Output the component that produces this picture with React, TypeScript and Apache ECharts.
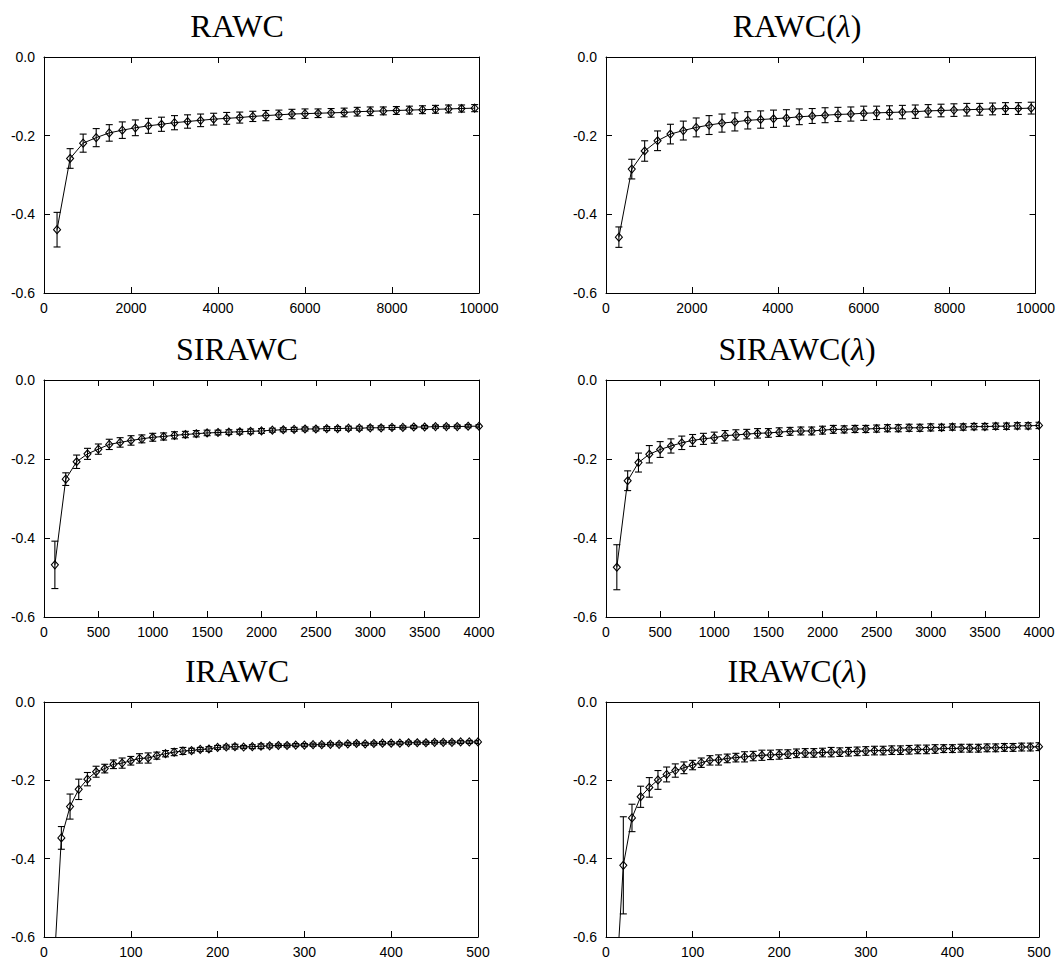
import React, { useEffect, useRef } from "react";
import * as echarts from "echarts";

// ---------- data ----------
const rawcX = [300, 600, 900, 1200, 1500, 1800, 2100, 2400, 2700, 3000, 3300, 3600, 3900, 4200, 4500, 4800, 5100, 5400, 5700, 6000, 6300, 6600, 6900, 7200, 7500, 7800, 8100, 8400, 8700, 9000, 9300, 9600, 9900];
const rawcY = [-0.439, -0.258, -0.219, -0.205, -0.193, -0.186, -0.18, -0.175, -0.171, -0.167, -0.164, -0.161, -0.158, -0.156, -0.154, -0.151, -0.149, -0.147, -0.145, -0.144, -0.143, -0.142, -0.141, -0.139, -0.138, -0.137, -0.136, -0.135, -0.134, -0.133, -0.132, -0.131, -0.13];
const rawcErr = [0.044, 0.025, 0.023, 0.023, 0.021, 0.021, 0.02, 0.019, 0.018, 0.018, 0.017, 0.016, 0.015, 0.015, 0.014, 0.013, 0.013, 0.012, 0.012, 0.012, 0.011, 0.011, 0.011, 0.011, 0.011, 0.01, 0.01, 0.01, 0.01, 0.01, 0.01, 0.009, 0.009];

const rawcLX = rawcX;
const rawcLY = [-0.458, -0.285, -0.239, -0.213, -0.196, -0.187, -0.179, -0.173, -0.168, -0.165, -0.161, -0.159, -0.157, -0.155, -0.152, -0.15, -0.148, -0.146, -0.145, -0.143, -0.142, -0.141, -0.14, -0.139, -0.137, -0.136, -0.135, -0.134, -0.133, -0.132, -0.131, -0.131, -0.13];
const rawcLErr = [0.026, 0.025, 0.026, 0.025, 0.025, 0.024, 0.024, 0.024, 0.023, 0.023, 0.022, 0.022, 0.022, 0.021, 0.02, 0.019, 0.019, 0.018, 0.018, 0.018, 0.017, 0.017, 0.017, 0.017, 0.016, 0.016, 0.016, 0.016, 0.015, 0.015, 0.015, 0.015, 0.015];

const sirawcX = [100, 200, 300, 400, 500, 600, 700, 800, 900, 1000, 1100, 1200, 1300, 1400, 1500, 1600, 1700, 1800, 1900, 2000, 2100, 2200, 2300, 2400, 2500, 2600, 2700, 2800, 2900, 3000, 3100, 3200, 3300, 3400, 3500, 3600, 3700, 3800, 3900, 4000];
const sirawcY = [-0.468, -0.251, -0.207, -0.187, -0.175, -0.163, -0.158, -0.153, -0.149, -0.145, -0.143, -0.14, -0.138, -0.136, -0.134, -0.133, -0.132, -0.131, -0.13, -0.129, -0.127, -0.126, -0.125, -0.124, -0.124, -0.123, -0.123, -0.122, -0.122, -0.121, -0.121, -0.12, -0.12, -0.119, -0.119, -0.118, -0.118, -0.118, -0.117, -0.117];
const sirawcErr = [0.06, 0.016, 0.017, 0.014, 0.013, 0.013, 0.012, 0.012, 0.01, 0.01, 0.009, 0.009, 0.008, 0.008, 0.007, 0.006, 0.006, 0.006, 0.006, 0.006, 0.005, 0.005, 0.005, 0.005, 0.005, 0.005, 0.005, 0.005, 0.005, 0.005, 0.005, 0.005, 0.004, 0.004, 0.004, 0.004, 0.004, 0.004, 0.004, 0.004];

const sirawcLX = sirawcX;
const sirawcLY = [-0.474, -0.255, -0.209, -0.188, -0.176, -0.167, -0.159, -0.153, -0.149, -0.146, -0.141, -0.139, -0.137, -0.135, -0.134, -0.132, -0.13, -0.129, -0.129, -0.127, -0.125, -0.125, -0.124, -0.124, -0.123, -0.122, -0.122, -0.121, -0.121, -0.12, -0.12, -0.119, -0.119, -0.118, -0.118, -0.117, -0.117, -0.116, -0.116, -0.115];
const sirawcLErr = [0.057, 0.025, 0.024, 0.022, 0.02, 0.018, 0.017, 0.015, 0.014, 0.014, 0.013, 0.013, 0.012, 0.012, 0.011, 0.011, 0.01, 0.01, 0.01, 0.01, 0.01, 0.009, 0.009, 0.009, 0.009, 0.009, 0.009, 0.009, 0.009, 0.009, 0.008, 0.008, 0.008, 0.008, 0.008, 0.008, 0.008, 0.008, 0.008, 0.008];

const irawcX = [10, 20, 30, 40, 50, 60, 70, 80, 90, 100, 110, 120, 130, 140, 150, 160, 170, 180, 190, 200, 210, 220, 230, 240, 250, 260, 270, 280, 290, 300, 310, 320, 330, 340, 350, 360, 370, 380, 390, 400, 410, 420, 430, 440, 450, 460, 470, 480, 490, 500];
const irawcY = [-0.74, -0.347, -0.267, -0.223, -0.197, -0.178, -0.17, -0.159, -0.156, -0.15, -0.144, -0.143, -0.137, -0.132, -0.128, -0.125, -0.124, -0.121, -0.12, -0.116, -0.115, -0.114, -0.115, -0.114, -0.113, -0.112, -0.111, -0.111, -0.11, -0.11, -0.109, -0.109, -0.108, -0.108, -0.107, -0.106, -0.107, -0.106, -0.105, -0.105, -0.105, -0.104, -0.104, -0.104, -0.103, -0.103, -0.103, -0.102, -0.102, -0.102];
const irawcErr = [0.06, 0.029, 0.032, 0.026, 0.017, 0.014, 0.011, 0.011, 0.013, 0.011, 0.012, 0.013, 0.009, 0.008, 0.009, 0.009, 0.006, 0.005, 0.006, 0.005, 0.005, 0.006, 0.004, 0.005, 0.006, 0.005, 0.004, 0.004, 0.004, 0.004, 0.004, 0.004, 0.004, 0.004, 0.004, 0.004, 0.004, 0.004, 0.004, 0.004, 0.004, 0.004, 0.004, 0.004, 0.004, 0.004, 0.004, 0.004, 0.004, 0.004];

const irawcLX = irawcX;
const irawcLY = [-0.785, -0.417, -0.296, -0.242, -0.218, -0.199, -0.185, -0.175, -0.168, -0.161, -0.155, -0.149, -0.148, -0.144, -0.142, -0.14, -0.138, -0.136, -0.135, -0.134, -0.133, -0.131, -0.13, -0.13, -0.129, -0.128, -0.128, -0.127, -0.126, -0.125, -0.124, -0.124, -0.123, -0.123, -0.122, -0.121, -0.121, -0.12, -0.119, -0.119, -0.118, -0.118, -0.118, -0.117, -0.117, -0.116, -0.116, -0.115, -0.115, -0.114];
const irawcLErr = [0.1, 0.124, 0.035, 0.027, 0.025, 0.024, 0.019, 0.017, 0.015, 0.012, 0.012, 0.012, 0.013, 0.011, 0.011, 0.013, 0.012, 0.013, 0.012, 0.012, 0.011, 0.011, 0.011, 0.011, 0.011, 0.012, 0.011, 0.011, 0.011, 0.011, 0.011, 0.011, 0.011, 0.011, 0.011, 0.011, 0.011, 0.011, 0.01, 0.01, 0.01, 0.01, 0.01, 0.01, 0.01, 0.01, 0.01, 0.01, 0.01, 0.01];

const yTicks = { min: -0.6, max: 0, interval: 0.2 };
const xRanges = [
  { max: 10000, interval: 2000 },
  { max: 10000, interval: 2000 },
  { max: 4000, interval: 500 },
  { max: 4000, interval: 500 },
  { max: 500, interval: 100 },
  { max: 500, interval: 100 },
];
const titles = ["RAWC", "RAWC", "SIRAWC", "SIRAWC", "IRAWC", "IRAWC"];
const withLambda = [false, true, false, true, false, true];
const seriesX = [rawcX, rawcLX, sirawcX, sirawcLX, irawcX, irawcLX];
const seriesY = [rawcY, rawcLY, sirawcY, sirawcLY, irawcY, irawcLY];
const seriesErr = [rawcErr, rawcLErr, sirawcErr, sirawcLErr, irawcErr, irawcLErr];

// ---------- layout ----------
const grids = [
  { left: 44, top: 57, width: 435, height: 236 },
  { left: 606, top: 57, width: 433, height: 236 },
  { left: 44, top: 380, width: 435, height: 237 },
  { left: 606, top: 380, width: 433, height: 237 },
  { left: 44, top: 702, width: 434, height: 235 },
  { left: 606, top: 702, width: 433, height: 235 },
];
const titleCenters = [
  [237, 26],
  [797, 26],
  [237, 349],
  [797, 349],
  [237, 671],
  [797, 671],
];

const BLACK = "#000";
const LABEL_FONT = "Liberation Sans";
const TITLE_FONT = "Liberation Serif";

function buildOption() {
  const xAxis: any[] = [];
  const yAxis: any[] = [];
  const series: any[] = [];
  const graphic: any[] = [];

  const axisLine = { show: true, onZero: false, lineStyle: { color: BLACK, width: 1 } };
  const axisTick = { show: true, inside: true, length: 6, lineStyle: { color: BLACK, width: 1 } };

  grids.forEach((g, i) => {
    const xr = xRanges[i];
    xAxis.push({
      type: "value",
      gridIndex: i,
      position: "bottom",
      min: 0,
      max: xr.max,
      interval: xr.interval,
      axisLine,
      axisTick,
      splitLine: { show: false },
      axisLabel: {
        show: true,
        color: BLACK,
        fontFamily: LABEL_FONT,
        fontSize: 14,
        margin: 8,
        showMinLabel: true,
        showMaxLabel: true,
        formatter: (v: number) => String(v),
      },
    });
    xAxis.push({
      type: "value",
      gridIndex: i,
      position: "top",
      min: 0,
      max: xr.max,
      interval: xr.interval,
      axisLine,
      axisTick,
      splitLine: { show: false },
      axisLabel: { show: false },
    });
    yAxis.push({
      type: "value",
      gridIndex: i,
      position: "left",
      min: yTicks.min,
      max: yTicks.max,
      interval: yTicks.interval,
      axisLine,
      axisTick,
      splitLine: { show: false },
      axisLabel: {
        show: true,
        color: BLACK,
        fontFamily: LABEL_FONT,
        fontSize: 14,
        margin: 9,
        showMinLabel: true,
        showMaxLabel: true,
        formatter: (v: number) => (Math.abs(v) < 1e-9 ? "0.0" : v.toFixed(1)),
      },
    });
    yAxis.push({
      type: "value",
      gridIndex: i,
      position: "right",
      min: yTicks.min,
      max: yTicks.max,
      interval: yTicks.interval,
      axisLine,
      axisTick,
      splitLine: { show: false },
      axisLabel: { show: false },
    });

    const xs = seriesX[i];
    const ys = seriesY[i];
    const es = seriesErr[i];
    const pts = xs.map((x, k) => [x, ys[k]]);
    const errData = xs.map((x, k) => [x, ys[k], es[k]]);

    series.push({
      type: "custom",
      xAxisIndex: 2 * i,
      yAxisIndex: 2 * i,
      clip: true,
      silent: true,
      z: 3,
      data: errData,
      encode: { x: 0, y: 1 },
      renderItem: (params: any, api: any) => {
        const x = api.value(0);
        const y = api.value(1);
        const e = api.value(2);
        const top = api.coord([x, y + e]);
        const bot = api.coord([x, y - e]);
        const cap = 3.5;
        const st = { stroke: BLACK, lineWidth: 1.1 };
        return {
          type: "group",
          children: [
            { type: "line", shape: { x1: top[0], y1: top[1], x2: bot[0], y2: bot[1] }, style: st },
            { type: "line", shape: { x1: top[0] - cap, y1: top[1], x2: top[0] + cap, y2: top[1] }, style: st },
            { type: "line", shape: { x1: bot[0] - cap, y1: bot[1], x2: bot[0] + cap, y2: bot[1] }, style: st },
          ],
        };
      },
    });

    series.push({
      type: "line",
      xAxisIndex: 2 * i,
      yAxisIndex: 2 * i,
      data: pts,
      clip: true,
      z: 2,
      symbol: "diamond",
      symbolSize: [7, 8],
      showSymbol: true,
      showAllSymbol: true,
      lineStyle: { color: BLACK, width: 1 },
      itemStyle: { color: "rgba(0,0,0,0)", borderColor: BLACK, borderWidth: 1.1 },
      emphasis: { disabled: true },
    });

    const [cx, cy] = titleCenters[i];
    graphic.push({
      type: "text",
      x: cx,
      y: cy,
      silent: true,
      style: {
        text: withLambda[i] ? titles[i] + "({l|λ})" : titles[i],
        fill: BLACK,
        fontFamily: TITLE_FONT,
        fontSize: 32,
        align: "center",
        verticalAlign: "middle",
        rich: {
          l: { fontFamily: TITLE_FONT, fontSize: 32, fontStyle: "italic", fill: BLACK },
        },
      },
    });
  });

  return {
    animation: false,
    backgroundColor: "#fff",
    grid: grids.map((g) => ({ ...g, containLabel: false })),
    xAxis,
    yAxis,
    series,
    graphic,
  };
}

export default function App() {
  const ref = useRef<HTMLDivElement>(null);
  useEffect(() => {
    document.body.style.margin = "0";
    if (!ref.current) return;
    const chart = echarts.init(ref.current, undefined, { renderer: "svg" });
    chart.setOption(buildOption());
    return () => chart.dispose();
  }, []);
  return <div ref={ref} style={{ width: 1058, height: 959 }} />;
}
